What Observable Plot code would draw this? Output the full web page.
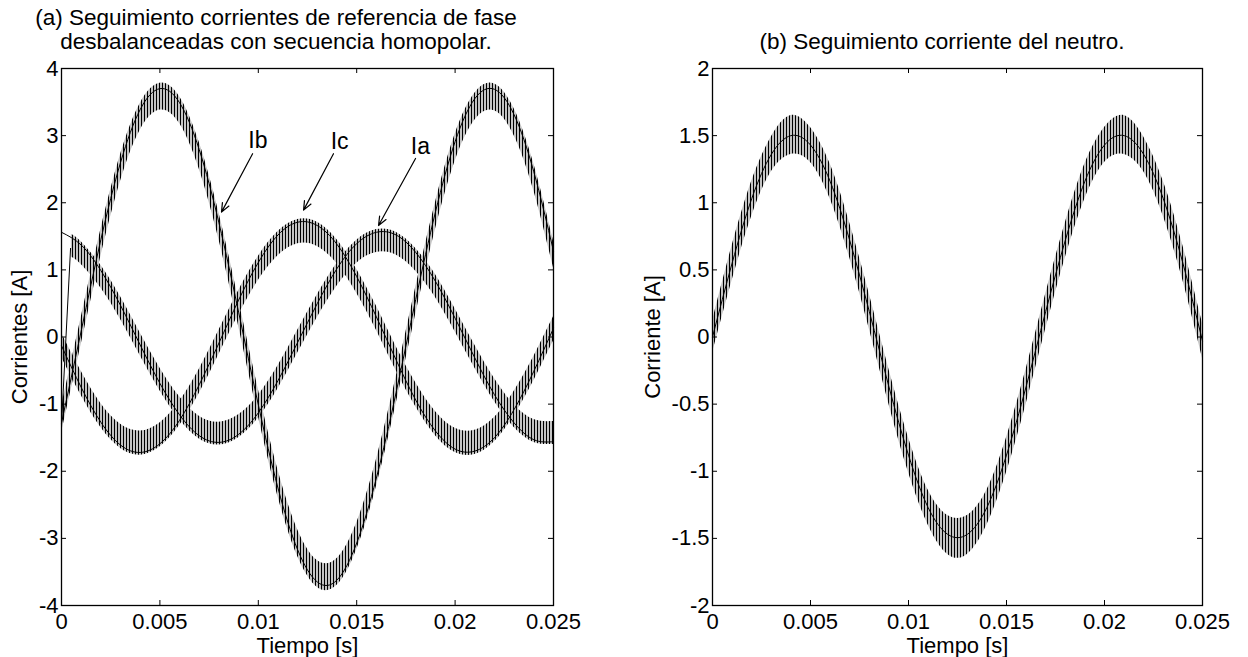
<!DOCTYPE html>
<html><head><meta charset="utf-8">
<script src="https://cdn.jsdelivr.net/npm/d3@7"></script>
<script src="https://cdn.jsdelivr.net/npm/@observablehq/plot@0.6"></script>
<style>
body{margin:0;background:#fff;font-family:"Liberation Sans",Arial,sans-serif;}
#wrap{position:relative;width:1248px;height:657px;overflow:hidden;background:#fff}
.panel{position:absolute;top:0;width:624px;height:657px}
.title{position:absolute;font-size:22.5px;line-height:24px;text-align:center;color:#000;white-space:nowrap}
.plotbox{position:absolute;top:56px;left:0}
</style></head>
<body>
<svg width="0" height="0" style="position:absolute"><defs>
<pattern id="ripple" patternUnits="userSpaceOnUse" width="3" height="12"><rect width="3" height="12" fill="#c4c4c4"/><rect width="1" height="12" fill="#000"/></pattern>
</defs></svg>
<div id="wrap">
 <div class="panel" style="left:0">
  <div class="title" style="left:0;width:552px;top:6px">(a) Seguimiento corrientes de referencia de fase<br>desbalanceadas con secuencia homopolar.</div>
  <div class="plotbox" id="pa"></div>
 </div>
 <div class="panel" style="left:624px">
  <div class="title" style="left:0;width:636px;top:30px">(b) Seguimiento corriente del neutro.</div>
  <div class="plotbox" id="pb"></div>
 </div>
</div>
<script>
// ---- data ----
const times = [0,0.001,0.002,0.003,0.004,0.005,0.006,0.007,0.008,0.009,0.010,0.011,0.012,0.013,0.014,0.015,0.016,0.017,0.018,0.019,0.020,0.021,0.022,0.023,0.024,0.025];
// reference (smooth) currents, panel (a)
const iaRef = [1.56,1.37,0.99,0.47,-0.12,-0.69,-1.16,-1.47,-1.57,-1.45,-1.13,-0.65,-0.08,0.50,1.02,1.39,1.56,1.52,1.26,0.83,0.28,-0.31,-0.86,-1.28,-1.53,-1.56];
const ibRef = [-1.28,0.09,1.45,2.60,3.39,3.70,3.49,2.79,1.70,0.37,-1.01,-2.25,-3.17,-3.65,-3.62,-3.07,-2.10,-0.83,0.56,1.86,2.91,3.55,3.69,3.31,2.46,1.28];
const icRef = [-0.13,-0.75,-1.27,-1.61,-1.72,-1.59,-1.24,-0.71,-0.09,0.55,1.11,1.52,1.71,1.66,1.38,0.90,0.30,-0.34,-0.94,-1.40,-1.67,-1.70,-1.50,-1.08,-0.51,0.13];
// measured currents: lower / upper edge of the switching ripple
const iaStartT = [0, 0.00046];
const iaStartV = [-1.30, 1.32];
const iaTimes = [0.0005,0.001,0.002,0.003,0.004,0.005,0.006,0.007,0.008,0.009,0.010,0.011,0.012,0.013,0.014,0.015,0.016,0.017,0.018,0.019,0.020,0.021,0.022,0.023,0.024,0.025];
const iaLo = [1.19,1.08,0.73,0.26,-0.28,-0.80,-1.23,-1.52,-1.61,-1.50,-1.21,-0.77,-0.24,0.29,0.76,1.10,1.26,1.22,0.98,0.59,0.08,-0.46,-0.96,-1.35,-1.57,-1.60];
const iaHi = [1.53,1.42,1.07,0.60,0.06,-0.46,-0.89,-1.18,-1.27,-1.16,-0.87,-0.43,0.10,0.63,1.10,1.44,1.60,1.56,1.32,0.93,0.42,-0.12,-0.62,-1.01,-1.23,-1.26];
const ibLo = [-1.43,-0.11,1.20,2.32,3.08,3.38,3.18,2.50,1.45,0.16,-1.18,-2.38,-3.27,-3.73,-3.70,-3.17,-2.23,-1.00,0.34,1.60,2.62,3.23,3.37,3.00,2.18,1.03];
const ibHi = [-1.03,0.29,1.60,2.72,3.48,3.78,3.58,2.90,1.85,0.56,-0.78,-1.98,-2.87,-3.33,-3.30,-2.77,-1.83,-0.60,0.74,2.00,3.02,3.63,3.77,3.40,2.58,1.43];
const icLo = [-0.30,-0.87,-1.35,-1.66,-1.76,-1.64,-1.32,-0.84,-0.26,0.33,0.84,1.21,1.39,1.35,1.09,0.65,0.10,-0.50,-1.04,-1.47,-1.72,-1.75,-1.56,-1.17,-0.65,-0.06];
const icHi = [0.06,-0.51,-0.99,-1.30,-1.40,-1.28,-0.96,-0.48,0.10,0.69,1.20,1.57,1.75,1.71,1.45,1.01,0.46,-0.14,-0.68,-1.11,-1.36,-1.39,-1.20,-0.81,-0.29,0.30];
// neutral current, panel (b)
const inRef = [0,0.55,1.03,1.36,1.50,1.43,1.16,0.72,0.19,-0.37,-0.88,-1.27,-1.47,-1.47,-1.27,-0.88,-0.37,0.19,0.72,1.16,1.43,1.50,1.36,1.03,0.55,-0.03];
const inLo = [-0.12,0.42,0.90,1.23,1.36,1.30,1.03,0.59,0.06,-0.50,-1.01,-1.40,-1.62,-1.62,-1.40,-1.01,-0.50,0.06,0.59,1.03,1.30,1.36,1.23,0.90,0.42,-0.16];
const inHi = [0.12,0.68,1.16,1.49,1.65,1.56,1.29,0.85,0.32,-0.24,-0.75,-1.14,-1.33,-1.33,-1.14,-0.75,-0.24,0.32,0.85,1.29,1.56,1.65,1.49,1.16,0.68,0.10];
// annotations in panel (a)
const annLabel = ["Ib","Ic","Ia"];
const annTextT = [0.00998,0.01413,0.01824];
const annTextV = [2.92,2.91,2.84];
const annFromT = [0.00971,0.01382,0.01799];
const annFromV = [2.73,2.73,2.66];
const annToT = [0.00813,0.01230,0.01611];
const annToV = [1.86,1.89,1.66];
// ticks
const xTicks = [0,0.005,0.01,0.015,0.02,0.025];
const xTickLabels = ["0","0.005","0.01","0.015","0.02","0.025"];
const yTicksA = [-4,-3,-2,-1,0,1,2,3,4];
const yTickLabelsA = ["-4","-3","-2","-1","0","1","2","3","4"];
const yTicksB = [-2,-1.5,-1,-0.5,0,0.5,1,1.5,2];
const yTickLabelsB = ["-2","-1.5","-1","-0.5","0","0.5","1","1.5","2"];

// ---- build tables ----
const band = (ts, lo, hi) => ts.map((t, i) => ({t, lo: lo[i], hi: hi[i]}));
const ser = (ts, v) => ts.map((t, i) => ({t, v: v[i]}));
const ann = annLabel.map((s, i) => ({s, tx: annTextT[i], ty: annTextV[i], x1: annFromT[i], y1: annFromV[i], x2: annToT[i], y2: annToV[i]}));

const FONT = "'Liberation Sans', Arial, Helvetica, sans-serif";
const TICK = 5;

function frameMarks(xt, yt, fw, fh) {
  return [
    Plot.frame({stroke: "#000", strokeWidth: 1.3}),
    Plot.tickX(xt, {x: d => d, insetTop: fh - TICK, stroke: "#000", strokeWidth: 1}),
    Plot.tickX(xt, {x: d => d, insetBottom: fh - TICK, stroke: "#000", strokeWidth: 1}),
    Plot.tickY(yt, {y: d => d, insetRight: fw - TICK, stroke: "#000", strokeWidth: 1}),
    Plot.tickY(yt, {y: d => d, insetLeft: fw - TICK, stroke: "#000", strokeWidth: 1})
  ];
}
const bandMark = (data) => Plot.areaY(data, {x: "t", y1: "lo", y2: "hi", fill: "url(#ripple)", curve: "natural"});
const refMark = (data) => Plot.line(data, {x: "t", y: "v", stroke: "#000", strokeWidth: 1, curve: "natural"});

const H = 601;
const common = {
  width: 624, height: H, marginTop: 12, marginBottom: 52,
  style: {fontSize: "22px", fontFamily: FONT, color: "#000", background: "transparent", overflow: "visible"}
};
const xOpts = {domain: [0, 0.025], ticks: xTicks, tickFormat: d => xTickLabels[xTicks.indexOf(d)], tickSize: 0, tickPadding: 8,
      label: "Tiempo [s]", labelAnchor: "center", labelOffset: 47, labelArrow: "none"};

const plotA = Plot.plot({
  ...common,
  marginLeft: 61, marginRight: 71,
  x: xOpts,
  y: {domain: [-4, 4], ticks: yTicksA, tickFormat: d => yTickLabelsA[yTicksA.indexOf(d)], tickSize: 0, tickPadding: 3,
      label: "Corrientes [A]", labelAnchor: "center", labelOffset: 50, labelArrow: "none"},
  marks: [
    bandMark(band(times, ibLo, ibHi)),
    bandMark(band(times, icLo, icHi)),
    bandMark(band(iaTimes, iaLo, iaHi)),
    Plot.line(ser(iaStartT, iaStartV), {x: "t", y: "v", stroke: "#000", strokeWidth: 1}),
    refMark(ser(times, ibRef)),
    refMark(ser(times, icRef)),
    refMark(ser(times, iaRef)),
    Plot.arrow(ann, {x1: "x1", y1: "y1", x2: "x2", y2: "y2", stroke: "#000", strokeWidth: 1.2, headLength: 12, headAngle: 45}),
    Plot.text(ann, {x: "tx", y: "ty", text: "s", fontSize: 23, fill: "#000"}),
    ...frameMarks(xTicks, yTicksA, 492, 537)
  ]
});
document.getElementById("pa").appendChild(plotA);

const plotB = Plot.plot({
  ...common,
  marginLeft: 88, marginRight: 46,
  x: xOpts,
  y: {domain: [-2, 2], ticks: yTicksB, tickFormat: d => yTickLabelsB[yTicksB.indexOf(d)], tickSize: 0, tickPadding: 3,
      label: "Corriente [A]", labelAnchor: "center", labelOffset: 68, labelArrow: "none"},
  marks: [
    bandMark(band(times, inLo, inHi)),
    refMark(ser(times, inRef)),
    ...frameMarks(xTicks, yTicksB, 490, 537)
  ]
});
document.getElementById("pb").appendChild(plotB);
</script>
</body></html>
